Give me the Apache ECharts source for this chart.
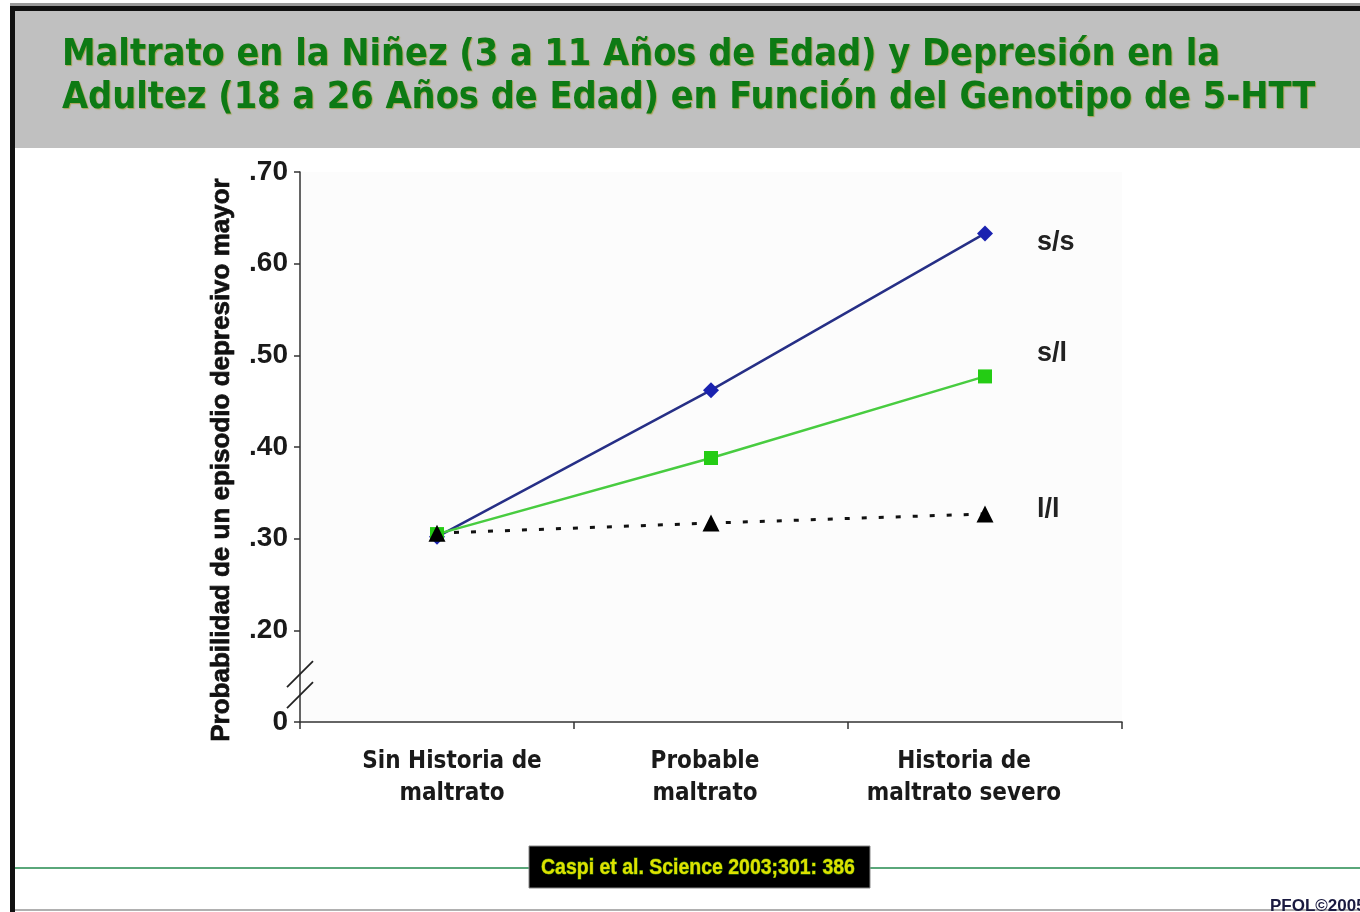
<!DOCTYPE html>
<html><head><meta charset="utf-8">
<script src="https://cdn.jsdelivr.net/npm/echarts@6/dist/echarts.min.js"></script>
<style>html,body{margin:0;padding:0;background:#fff}#c{width:1360px;height:912px}</style>
</head><body><div id="c"></div>
<script>
const categories = ['Sin Historia de\nmaltrato', 'Probable\nmaltrato', 'Historia de\nmaltrato severo'];
const labelShift = [15, -6, -21];
const seriesNames = ['s/s', 's/l', 'l/l'];
const ssValues = [0.302, 0.462, 0.633];
const slValues = [0.305, 0.388, 0.477];
const llValues = [0.306, 0.317, 0.327];
const yTickValues = [0.1, 0.2, 0.3, 0.4, 0.5, 0.6, 0.7];
const yTickLabels = ['0', '.20', '.30', '.40', '.50', '.60', '.70'];
const titleLines = ['Maltrato en la Niñez (3 a 11 Años de Edad) y Depresión en la', 'Adultez (18 a 26 Años de Edad) en Función del Genotipo de 5-HTT'];
const yAxisName = 'Probabilidad de un episodio depresivo mayor';
const citation = 'Caspi et al. Science 2003;301: 386';
const footer = 'PFOL©2005';

const chart = echarts.init(document.getElementById('c'));

function yLabel(v) {
  let best = 0, d = 1e9;
  yTickValues.forEach((t, i) => { if (Math.abs(t - v) < d) { d = Math.abs(t - v); best = i; } });
  return yTickLabels[best];
}

const rich = {};
categories.forEach((c, i) => {
  const s = labelShift[i];
  rich['c' + i] = {
    fontFamily: 'DejaVu Sans Condensed', fontWeight: 'bold', fontSize: 24, color: '#1a1a1a',
    lineHeight: 32, padding: s > 0 ? [0, 0, 0, 2 * s] : [0, -2 * s, 0, 0]
  };
});

const endLabelStyle = { show: true, formatter: '{a}', distance: 52, fontFamily: 'Liberation Sans', fontWeight: 'bold', fontSize: 27, color: '#222' };

const option = {
  backgroundColor: '#ffffff',
  animation: false,
  title: {
    text: titleLines.join('\n'),
    left: 57, top: 29,
    textStyle: {
      fontFamily: 'DejaVu Sans Condensed', fontWeight: 'bold', fontSize: 37.5,
      color: '#0d7a14', lineHeight: 43,
      textShadowColor: 'rgba(150,140,0,0.55)', textShadowBlur: 1, textShadowOffsetX: 1, textShadowOffsetY: 1
    }
  },
  grid: { left: 300, right: 238, top: 172, bottom: 190, show: true, backgroundColor: '#fcfcfc', borderWidth: 0 },
  xAxis: {
    type: 'category', data: categories, boundaryGap: true,
    axisLine: { lineStyle: { color: '#333', width: 1.5 } },
    axisTick: { show: true, length: 7, lineStyle: { color: '#333', width: 1.5 } },
    axisLabel: {
      margin: 24, interval: 0,
      formatter: (v, i) => v.split('\n').map(l => '{c' + i + '|' + l + '}').join('\n'),
      rich: rich
    }
  },
  yAxis: {
    type: 'value', min: 0.1, max: 0.7, interval: 0.1,
    axisLine: { show: true, lineStyle: { color: '#333', width: 1.5 } },
    axisTick: { show: true, length: 6, lineStyle: { color: '#333', width: 1.5 } },
    splitLine: { show: false },
    axisLabel: {
      margin: 12, formatter: yLabel,
      fontFamily: 'Liberation Sans', fontWeight: 'bold', fontSize: 28, color: '#1a1a1a'
    }
  },
  series: [
    {
      name: seriesNames[0], type: 'line', data: ssValues, symbol: 'diamond', symbolSize: 16,
      itemStyle: { color: '#1a22b0' }, lineStyle: { color: '#262f86', width: 2.5 },
      endLabel: Object.assign({}, endLabelStyle, { offset: [0, 9] })
    },
    {
      name: seriesNames[1], type: 'line', data: slValues, symbol: 'rect', symbolSize: 14,
      itemStyle: { color: '#24cc14' }, lineStyle: { color: '#48cc40', width: 2.5 },
      endLabel: Object.assign({}, endLabelStyle, { offset: [0, -23] })
    },
    {
      name: seriesNames[2], type: 'line', data: llValues, symbol: 'triangle', symbolSize: 17,
      itemStyle: { color: '#000' }, lineStyle: { color: '#111', width: 3, type: [5, 12] },
      endLabel: Object.assign({}, endLabelStyle, { offset: [0, -4] })
    }
  ]
};
chart.setOption(option);

function buildGraphic() {
  const ay = chart.convertToPixel({ yAxisIndex: 0 }, 0.15);
  const gx = chart.convertToPixel({ xAxisIndex: 0 }, 0) - (chart.convertToPixel({ xAxisIndex: 0 }, 1) - chart.convertToPixel({ xAxisIndex: 0 }, 0)) / 2;
  const yMid = (chart.convertToPixel({ yAxisIndex: 0 }, 0.1) + chart.convertToPixel({ yAxisIndex: 0 }, 0.7)) / 2 + 13;
  const slash = (cy) => ({
    type: 'line', shape: { x1: gx - 13, y1: cy + 13, x2: gx + 13, y2: cy - 13 },
    style: { stroke: '#222', lineWidth: 1.8 }, z: 10
  });
  return [
    { type: 'rect', shape: { x: 10, y: 11, width: 1360, height: 137 }, style: { fill: '#c0c0c0' }, z: -10 },
    { type: 'rect', shape: { x: 10, y: 3, width: 1360, height: 3 }, style: { fill: '#9a9a9a' }, z: -9 },
    { type: 'rect', shape: { x: 10, y: 6, width: 1360, height: 5 }, style: { fill: '#111' }, z: -9 },
    { type: 'rect', shape: { x: 10, y: 6, width: 5, height: 906 }, style: { fill: '#111' }, z: -9 },
    slash(ay - 2), slash(ay + 19),
    { type: 'text', x: gx - 78, y: yMid, rotation: Math.PI / 2, style: { text: yAxisName, align: 'center', verticalAlign: 'middle',
        font: 'bold 26px "Liberation Sans"', fill: '#111', stroke: '#111', lineWidth: 0.7 }, z: 5 },
    { type: 'rect', shape: { x: 15, y: 867, width: 1345, height: 2 }, style: { fill: '#5aa77a' }, z: 1 },
    { type: 'rect', shape: { x: 529, y: 846, width: 341, height: 42 }, style: { fill: '#000', stroke: '#888', lineWidth: 1 }, z: 5 },
    { type: 'text', x: 698, y: 868, scaleX: 0.885, style: { text: citation, align: 'center', verticalAlign: 'middle',
        font: 'bold 22px "Liberation Sans"', fill: '#dfe000', stroke: '#3a8a00', lineWidth: 1 }, z: 6 },
    { type: 'rect', shape: { x: 15, y: 909, width: 1345, height: 2 }, style: { fill: '#b0b0b0' }, z: 1 },
    { type: 'text', x: 1270, y: 906, style: { text: footer, align: 'left', verticalAlign: 'middle',
        font: 'bold 17px "Liberation Sans"', fill: '#1a1a40' }, z: 2 }
  ];
}
chart.setOption({ graphic: buildGraphic() });
</script></body></html>
